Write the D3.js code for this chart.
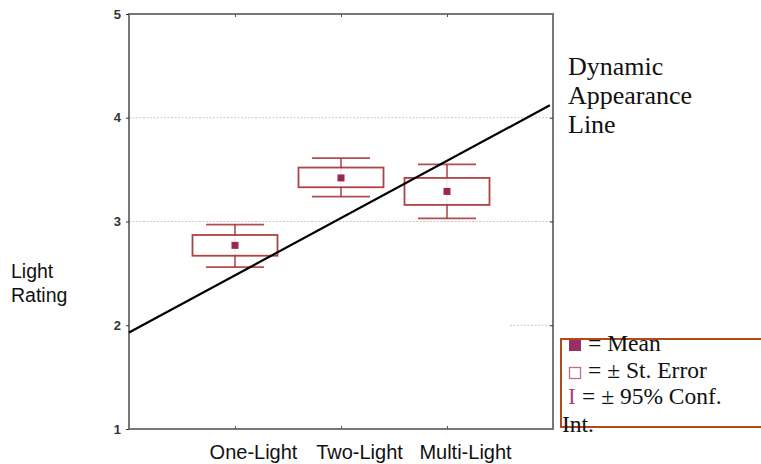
<!DOCTYPE html>
<html>
<head>
<meta charset="utf-8">
<script src="https://d3js.org/d3.v7.min.js"></script>
<style>
  body { margin: 0; background: #fff; }
  svg { display: block; }
</style>
</head>
<body>
<svg id="chart" width="761" height="464"></svg>
<script>
// ====== datos ======
var categorias = ["One-Light", "Two-Light", "Multi-Light"];
var medias     = [2.77, 3.42, 3.29];
var errSup     = [2.87, 3.52, 3.42];   // media + error estandar
var errInf     = [2.67, 3.33, 3.16];   // media - error estandar
var ciSup      = [2.97, 3.61, 3.55];   // 95% conf.
var ciInf      = [2.56, 3.24, 3.03];
var yTicks     = [1, 2, 3, 4, 5];
var gridVals   = [3, 4];
// linea dinamica: [posicion en x (indice de categoria), valor]
var lineaX     = [-1, 2.97];
var lineaY     = [1.93, 4.12];
var tituloLinea = ["Dynamic", "Appearance", "Line"];
var leyenda    = ["= Mean", "= \u00b1 St. Error", "= \u00b1 95% Conf.", "Int."];

var svg = d3.select("#chart");
var mIzq = 129, mDer = 553, mArr = 14, mAba = 429;

var x = d3.scalePoint().domain(categorias).range([mIzq, mDer]).padding(1);
var xl = d3.scaleLinear().domain([-1, 3]).range([mIzq, mDer]);
var y = d3.scaleLinear().domain([1, 5]).range([mAba, mArr]);

var rojo = "#a52f33";
var marcaColor = "#9a2752";

// grilla punteada
svg.selectAll("line.grid")
  .data(gridVals)
  .enter().append("line")
    .attr("class", "grid")
    .attr("x1", mIzq).attr("x2", mDer)
    .attr("y1", function(d) { return y(d); })
    .attr("y2", function(d) { return y(d); })
    .attr("stroke", "#c8c8c8")
    .attr("stroke-width", 1.2)
    .attr("stroke-dasharray", "2,1.5");

// pedacito de grilla en 2 (solo visible a la derecha)
svg.append("line")
  .attr("x1", 510).attr("x2", mDer)
  .attr("y1", y(2)).attr("y2", y(2))
  .attr("stroke", "#c8c8c8")
  .attr("stroke-width", 1.2)
  .attr("stroke-dasharray", "2,1.5");

// marco
svg.append("rect")
  .attr("x", mIzq).attr("y", mArr)
  .attr("width", mDer - mIzq).attr("height", mAba - mArr)
  .attr("fill", "none")
  .attr("stroke", "#777")
  .attr("stroke-width", 2);

// eje y
var yAxis = d3.axisLeft(y).tickValues(yTicks).tickSize(3).tickFormat(d3.format("d"));
var gy = svg.append("g").attr("transform", "translate(" + mIzq + ",0)").call(yAxis);
gy.select(".domain").remove();
gy.selectAll("line").attr("stroke", "#333");
gy.selectAll("text")
  .attr("x", -8)
  .style("font-family", "Arial, 'Liberation Sans', sans-serif")
  .style("font-size", "13px")
  .style("font-weight", "bold")
  .attr("fill", "#333");

// ticks derecha
svg.append("g").attr("transform", "translate(" + mDer + ",0)")
  .call(d3.axisRight(y).tickValues(gridVals.concat([2])).tickSize(-3).tickFormat(""))
  .call(function(g) { g.select(".domain").remove(); g.selectAll("line").attr("stroke", "#333"); });

// eje x
var gx = svg.append("g").attr("transform", "translate(0," + mAba + ")")
  .call(d3.axisBottom(x).tickSize(-3));
gx.select(".domain").remove();
gx.selectAll("line").attr("stroke", "#555");
gx.selectAll("text")
  .attr("y", 16)
  .attr("dy", "0.71em")
  .attr("dx", 18)
  .style("font-family", "Arial, 'Liberation Sans', sans-serif")
  .style("font-size", "20px")
  .attr("fill", "#111");

// ticks arriba
svg.append("g").attr("transform", "translate(0," + mArr + ")")
  .call(d3.axisTop(x).tickSize(-3).tickFormat(""))
  .call(function(g) { g.select(".domain").remove(); g.selectAll("line").attr("stroke", "#555"); });

// cajas
var grupos = svg.selectAll("g.caja")
  .data(categorias)
  .enter().append("g")
    .attr("class", "caja");

var boxW = 85, capW = 58;

grupos.append("line")
  .attr("x1", function(d) { return x(d); })
  .attr("x2", function(d) { return x(d); })
  .attr("y1", function(d, i) { return y(ciSup[i]); })
  .attr("y2", function(d, i) { return y(ciInf[i]); })
  .attr("stroke", rojo).attr("stroke-width", 1.6).attr("opacity", 0.85);

grupos.append("line")
  .attr("x1", function(d) { return x(d) - capW / 2; })
  .attr("x2", function(d) { return x(d) + capW / 2; })
  .attr("y1", function(d, i) { return y(ciSup[i]); })
  .attr("y2", function(d, i) { return y(ciSup[i]); })
  .attr("stroke", rojo).attr("stroke-width", 1.8).attr("opacity", 0.85);

grupos.append("line")
  .attr("x1", function(d) { return x(d) - capW / 2; })
  .attr("x2", function(d) { return x(d) + capW / 2; })
  .attr("y1", function(d, i) { return y(ciInf[i]); })
  .attr("y2", function(d, i) { return y(ciInf[i]); })
  .attr("stroke", rojo).attr("stroke-width", 1.8).attr("opacity", 0.85);

grupos.append("rect")
  .attr("x", function(d) { return x(d) - boxW / 2; })
  .attr("y", function(d, i) { return y(errSup[i]); })
  .attr("width", boxW)
  .attr("height", function(d, i) { return y(errInf[i]) - y(errSup[i]); })
  .attr("fill", "#fff")
  .attr("stroke", rojo).attr("stroke-width", 1.8).attr("opacity", 0.9);

grupos.append("rect")
  .attr("x", function(d) { return x(d) - 3.5; })
  .attr("y", function(d, i) { return y(medias[i]) - 3.5; })
  .attr("width", 7).attr("height", 7)
  .attr("fill", marcaColor);

// linea dinamica
svg.append("line")
  .attr("x1", xl(lineaX[0])).attr("y1", y(lineaY[0]))
  .attr("x2", xl(lineaX[1])).attr("y2", y(lineaY[1]))
  .attr("stroke", "#000").attr("stroke-width", 2.2);

// titulo eje y
svg.append("text")
  .attr("x", 11).attr("y", 278)
  .style("font-family", "Arial, 'Liberation Sans', sans-serif")
  .style("font-size", "19.5px")
  .attr("fill", "#111")
  .selectAll("tspan")
  .data(["Light", "Rating"])
  .enter().append("tspan")
    .attr("x", 11)
    .attr("dy", function(d, i) { return i === 0 ? 0 : 24; })
    .text(function(d) { return d; });

// texto linea
svg.append("text")
  .attr("x", 568).attr("y", 75)
  .style("font-family", "'Liberation Serif', 'Times New Roman', serif")
  .style("font-size", "26px")
  .attr("fill", "#111")
  .selectAll("tspan")
  .data(tituloLinea)
  .enter().append("tspan")
    .attr("x", 568)
    .attr("dy", function(d, i) { return i === 0 ? 0 : 29; })
    .text(function(d) { return d; });

// leyenda
svg.append("rect")
  .attr("x", 561).attr("y", 339)
  .attr("width", 210).attr("height", 88)
  .attr("fill", "none")
  .attr("stroke", "#b04a18")
  .attr("stroke-width", 2);

svg.append("rect")
  .attr("x", 569).attr("y", 340).attr("width", 12).attr("height", 11)
  .attr("fill", "#9a2e68");
svg.append("rect")
  .attr("x", 569.5).attr("y", 367.5).attr("width", 11).attr("height", 11)
  .attr("fill", "none").attr("stroke", "#c06a9a").attr("stroke-width", 1.3);
svg.append("text")
  .attr("x", 568).attr("y", 404)
  .style("font-family", "'Liberation Serif', 'Times New Roman', serif")
  .style("font-size", "23px")
  .attr("fill", "#a8457a")
  .text("I");

var legY = [351, 378, 404, 432];
var legX = [588, 588, 582, 562];
svg.selectAll("text.ley")
  .data(leyenda)
  .enter().append("text")
    .attr("class", "ley")
    .attr("x", function(d, i) { return legX[i]; })
    .attr("y", function(d, i) { return legY[i]; })
    .style("font-family", "'Liberation Serif', 'Times New Roman', serif")
    .style("font-size", "23.5px")
    .attr("fill", "#111")
    .text(function(d) { return d; });
</script>
</body>
</html>
